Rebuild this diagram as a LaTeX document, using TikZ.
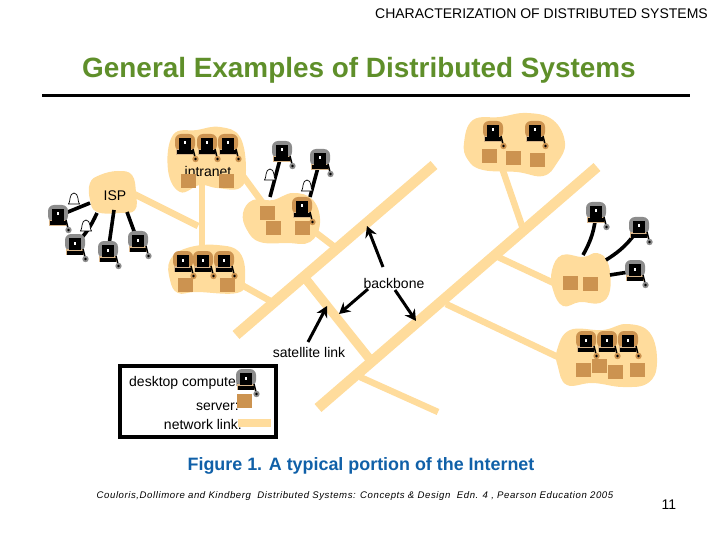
\documentclass[tikz,border=0pt]{standalone}
\usepackage{fontspec}
\setmainfont{Liberation Sans}
\newfontfamily\citefont[LetterSpace=6]{Liberation Sans}
\usetikzlibrary{positioning, arrows.meta}
\definecolor{linkcol}{HTML}{FFDC9C}
\definecolor{srvcol}{HTML}{CC9350}
\definecolor{shellgrey}{HTML}{8C8C8C}
\definecolor{basecol}{HTML}{D8B58A}
\definecolor{titlegreen}{HTML}{5F8F2A}
\definecolor{capblue}{HTML}{1060A8}
\tikzset{
    pics/desktop/.style={code={
        \fill[#1, rounded corners=6pt] (-10,-11) rectangle (10,6);
        \fill[basecol] (-9,4) rectangle (9,10);
        \fill[black] (-6,-7) rectangle (6,5);
        \fill[white] (-1,-3.5) rectangle (1,-0.5);
        \fill[black] (-8,5.5) rectangle (8,9.5);
        \draw[black, line width=1.5pt] (8,4) -- (10,12);
        \fill[#1] (10.5,14) circle [radius=3.2];
        \fill[black] (10.5,14) circle [radius=1.3];
    }},
    pics/bell/.style={code={
        \draw[black, fill=white, line width=0.7pt] (-5.5,5) .. controls (-3.5,3.5) and (-5,-6) .. (0,-6) .. controls (5,-6) and (3.5,3.5) .. (5.5,5) -- cycle;
    }}
}
\begin{document}
\begin{tikzpicture}[
        x=1pt, y=-1pt,
        backbone/.style={draw=linkcol, line width=10.5pt},
        link/.style={draw=linkcol, line width=6.5pt},
        cloudblob/.style={fill=linkcol, smooth cycle, tension=0.7},
        server/.style={rectangle, fill=srvcol, inner sep=0pt, minimum width=15pt, minimum height=14pt},
        wire/.style={draw=black, line width=3.6pt},
        arrow/.style={-{Stealth[length=11pt, width=12pt]}, line width=3pt},
        lbl/.style={inner sep=0pt, font=\fontsize{14}{16}\selectfont}
    ]
    \useasboundingbox (0,0) rectangle (720,540);

    % titles
    \node[inner sep=0pt, anchor=east, font=\fontsize{14}{16}\selectfont] (header) at (708,14) {CHARACTERIZATION OF DISTRIBUTED SYSTEMS};
    \node[inner sep=0pt, text=titlegreen, font=\fontsize{27.9}{32}\selectfont\bfseries] (title) at (359,70) {General Examples of Distributed Systems};
    \coordinate (ruleL) at (42,96);
    \coordinate (ruleR) at (690,96);
    \draw[line width=3pt] (ruleL) -- (ruleR);

    % link ends
    \foreach \pname/\px/\py in {
        aS/236/335, aE/434/165, bS/318/408, bE/597/167, cS/305/278, cE/372/362,
        ispE/130/192, jntA/198/226, intS/202/185, lowN/202/255, intE/240/172, midN/262/202,
        midE/315/232, jntB/336/248, lowE/240/284, jntC/274/303, topS/502/168, jntD/522/226,
        rgtW/558/285, jntE/498/257, lrW/560/358, jntF/446/304, jntG/360/377, brEnd/438/412}
        \coordinate (\pname) at (\px,\py);

    \draw[backbone] (aS) -- (aE);
    \draw[backbone] (bS) -- (bE);
    \draw[backbone, line width=9pt] (cS) -- (cE);
    \foreach \from/\to in {ispE/jntA, intS/lowN, intE/midN, midE/jntB, lowE/jntC, topS/jntD, rgtW/jntE, lrW/jntF, jntG/brEnd}
        \draw[link] (\from) -- (\to);

    % clouds
    \fill[cloudblob] plot coordinates {(90,183) (100,175) (118,171) (132,175) (136,193) (135,210) (120,213) (97,212) (90,200)};
    \fill[cloudblob] plot coordinates {(173,135) (197,130) (220,127) (240,137) (246,170) (240,188) (217,188) (200,185) (180,192) (168,170)};
    \fill[cloudblob] plot coordinates {(170,260) (187,248) (217,245) (240,253) (245,280) (237,293) (197,292) (178,293) (170,280)};
    \fill[cloudblob] plot coordinates {(243,213) (253,200) (273,200) (293,193) (313,200) (320,223) (310,242) (287,243) (260,242) (247,230)};
    \fill[cloudblob] plot coordinates {(464,143) (473,120) (500,117) (527,113) (553,120) (565,143) (557,163) (543,176) (517,172) (483,170) (468,160)};
    \fill[cloudblob] plot coordinates {(552,270) (562,255) (583,257) (597,253) (608,263) (610,290) (600,303) (580,302) (563,306) (553,290)};
    \fill[cloudblob] plot coordinates {(557,350) (570,330) (603,330) (627,324) (650,333) (657,363) (648,383) (623,387) (593,383) (567,385) (558,367)};

    \node[lbl] (isp) at (115,196) {ISP};
    \node[lbl] (intranet) at (208,171) {intranet};

    % servers
    \foreach \sname/\sx/\sy in {
        s1/188/181, s2/226/181, s3/185/285, s4/227/285, s5/267/213, s6/273/228, s7/302/228,
        s8/489/156, s9/513/158, s10/537/160, s11/570/283, s12/590/284,
        s13/583/370, s14/599/366, s15/615/372, s16/637/370}
        \node[server] (\sname) at (\sx,\sy) {};

    % computer positions
    \foreach \pname/\px/\py in {
        g1/58/216, g2/75/245, g3/108/252, g4/138/242, g5/282/152, g6/320/160,
        g7/596/213, g8/639/228, g9/635/271,
        b1/185/145, b2/207/145, b3/228/145, b4/183/262, b5/203/262, b6/224/262,
        b7/302/208, b8/493/132, b9/535/132, b10/586/342, b11/607/342, b12/628/342}
        \coordinate (\pname) at (\px,\py);

    % wires
    \coordinate (w1) at (90,203);
    \coordinate (w2) at (97,213);
    \coordinate (w3) at (114,210);
    \coordinate (w4) at (127,212);
    \coordinate (w5) at (270,197);
    \coordinate (w6) at (310,197);
    \coordinate (w7) at (583,255);
    \coordinate (w8) at (606,260);
    \coordinate (w9) at (610,275);
    \draw[wire] (w1) -- (g1);
    \draw[wire] (w2) to[bend left=10] (g2);
    \draw[wire] (w3) -- (g3);
    \draw[wire] (w4) -- (g4);
    \draw[wire] (w5) -- (g5);
    \draw[wire] (w6) -- (g6);
    \draw[wire] (w7) to[bend right=12] (g7);
    \draw[wire] (w8) to[bend right=12] (g8);
    \draw[wire] (w9) -- (g9);

    % legend
    \node[draw=black, line width=4pt, inner sep=0pt, minimum width=156pt, minimum height=71pt] (legend) at (198,401.5) {};
    \node[lbl, anchor=west] (ldesk) at (129,383) {desktop computer:};
    \node[lbl, anchor=east] (lsrv) at (239,407) {server:};
    \node[lbl, anchor=east] (lnet) at (242,424) {network link:};
    \node[server] (lserver) at (244,401) {};
    \coordinate (lkS) at (238,422.5);
    \coordinate (lkE) at (271,422.5);
    \draw[draw=linkcol, line width=8pt] (lkS) -- (lkE);
    \coordinate (lpc) at (246,380);

    \foreach \pname in {g1,g2,g3,g4,g5,g6,g7,g8,g9,lpc}
        \pic at (\pname) {desktop=shellgrey};
    \foreach \pname in {b1,b2,b3,b4,b5,b6,b7,b8,b9,b10,b11,b12}
        \pic at (\pname) {desktop=srvcol};

    % bells
    \coordinate (bl1) at (74,199);
    \coordinate (bl2) at (86,226);
    \coordinate (bl3) at (270,175);
    \coordinate (bl4) at (307,186);
    \foreach \pname in {bl1,bl2,bl3,bl4}
        \pic at (\pname) {bell};

    % arrows
    \node[lbl] (bbone) at (394,283) {backbone};
    \node[lbl] (satl) at (309,352) {satellite link};
    \coordinate (aU) at (367,226);
    \coordinate (aL) at (339,314);
    \coordinate (aR) at (416,321);
    \coordinate (aT) at (327,306);
    \coordinate (aUs) at (383,267);
    \coordinate (aLs) at (368,289);
    \coordinate (aRs) at (395,290);
    \coordinate (aTs) at (308,342);
    \draw[arrow] (aUs) -- (aU);
    \draw[arrow] (aLs) -- (aL);
    \draw[arrow] (aRs) -- (aR);
    \draw[arrow] (aTs) -- (aT);

    % captions
    \node[inner sep=0pt, text=capblue, font=\fontsize{17.9}{20}\selectfont\bfseries] (figcap) at (361,466) {Figure 1. A typical portion of the Internet};
    \node[inner sep=0pt, font=\citefont\fontsize{9.6}{11}\selectfont\itshape] (cite) at (355,496) {Couloris,Dollimore and Kindberg\ \ Distributed Systems: Concepts \& Design\ \ Edn. 4 , Pearson Education 2005};
    \node[inner sep=0pt, font=\fontsize{14}{16}\selectfont] (pageno) at (669,505) {11};
\end{tikzpicture}
\end{document}
